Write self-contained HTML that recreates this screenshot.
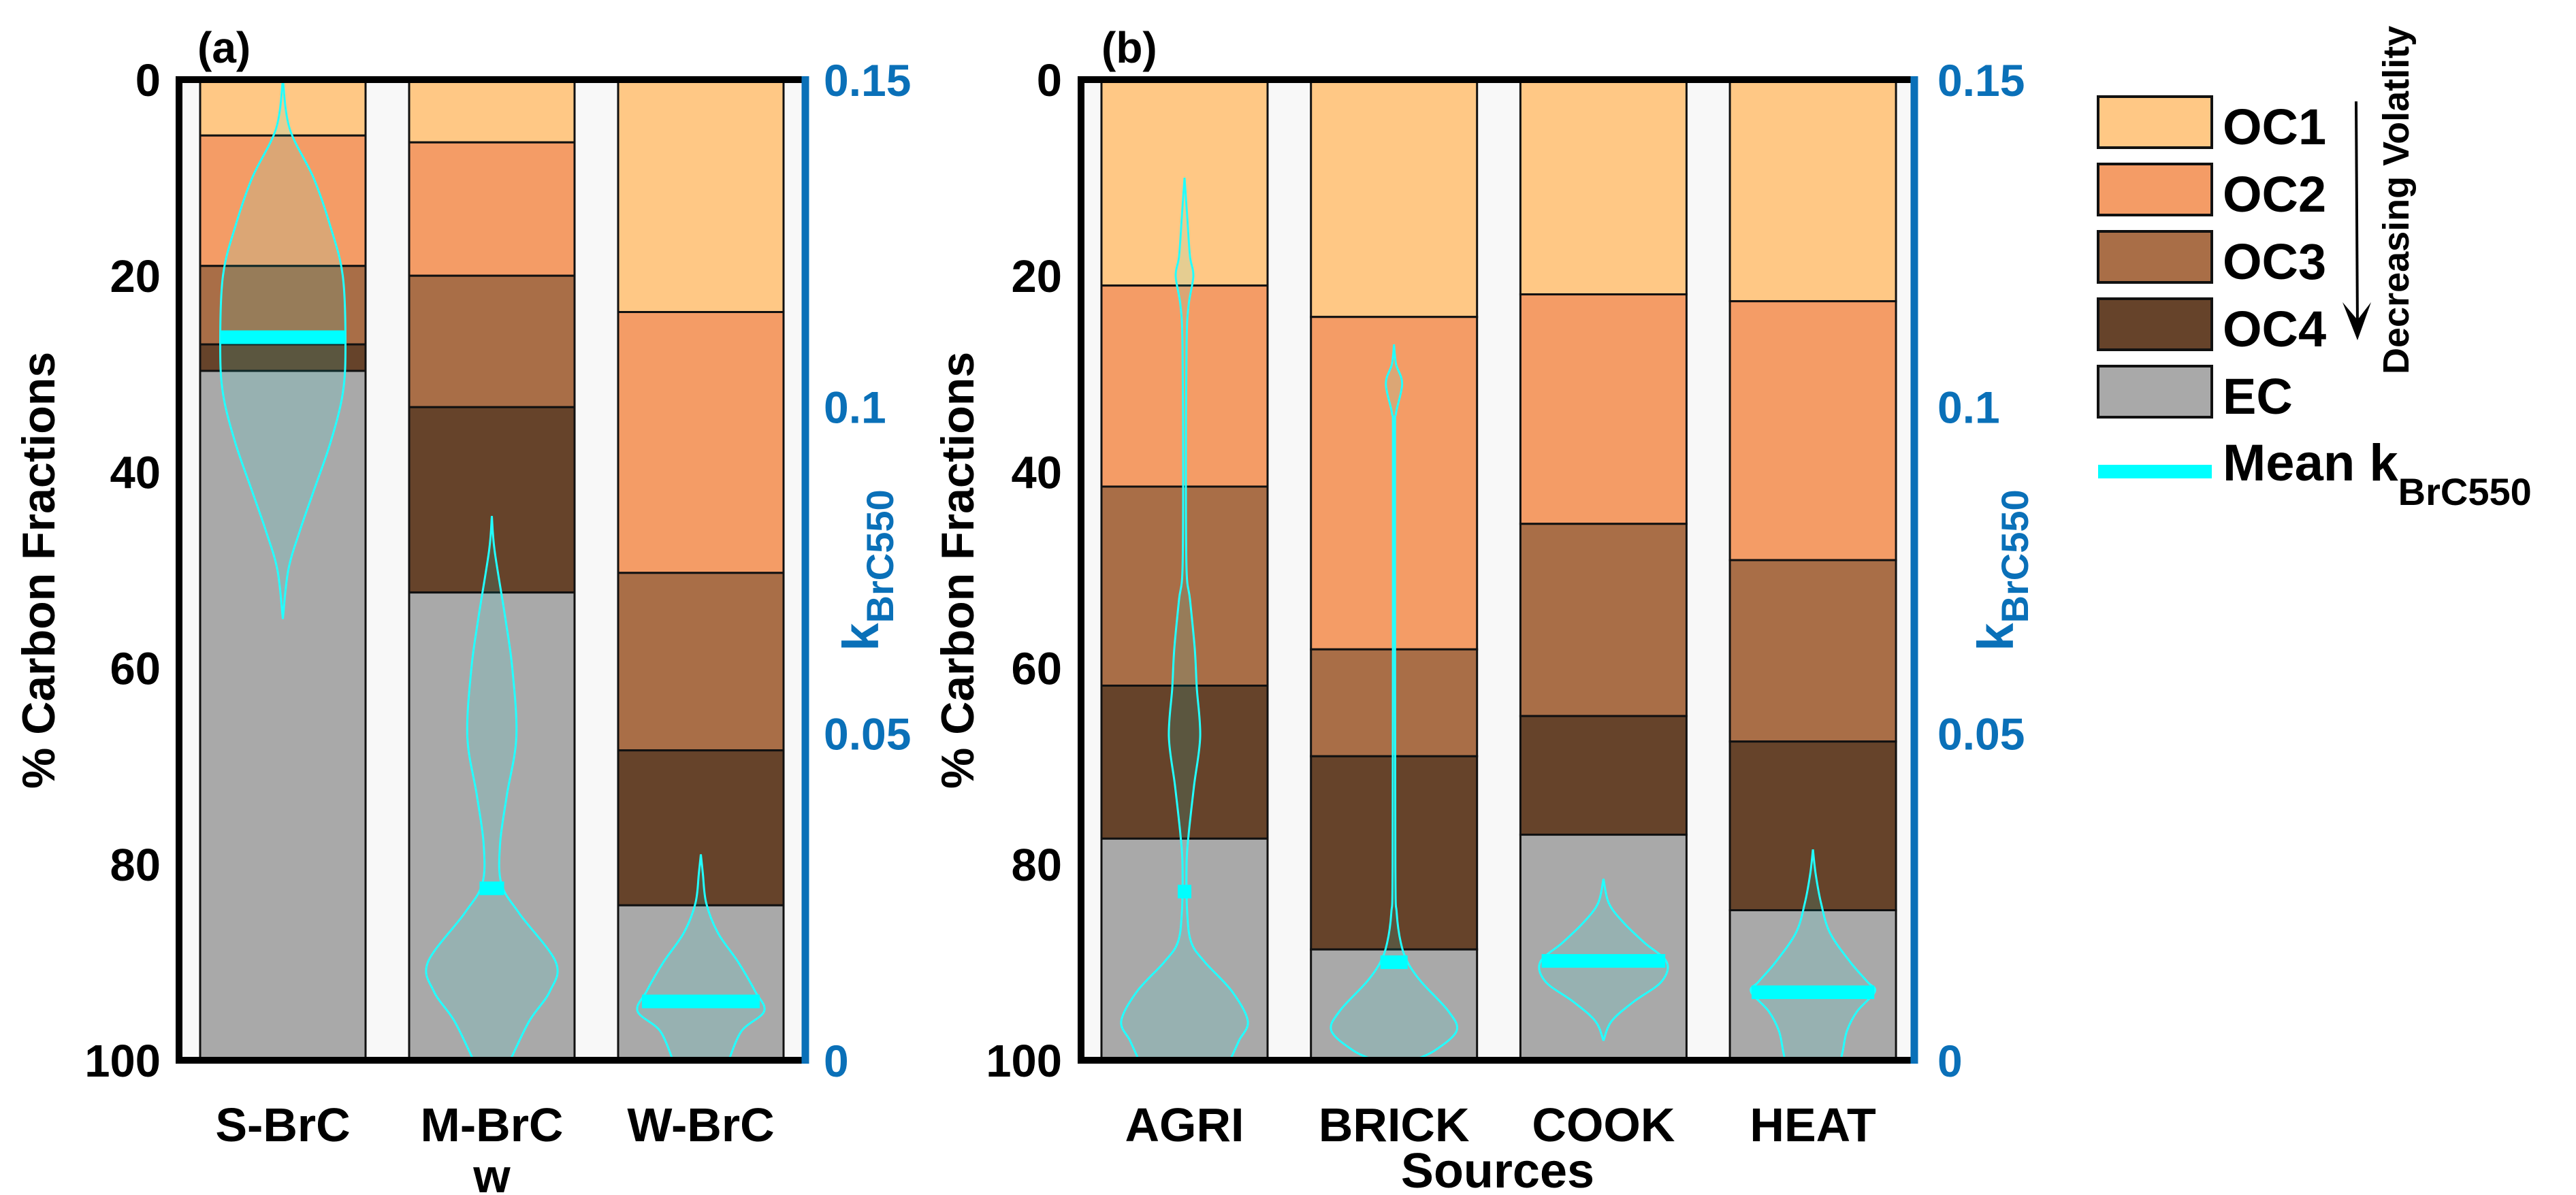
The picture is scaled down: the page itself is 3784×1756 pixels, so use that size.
<!DOCTYPE html>
<html><head><meta charset="utf-8"><style>
html,body{margin:0;padding:0;background:#fff}
svg{display:block}
text{font-family:"Liberation Sans",Arial,sans-serif;font-weight:bold}
.nar{font-family:"Liberation Sans Narrow","Liberation Sans",sans-serif;font-weight:bold}
</style></head><body>
<svg id="chart" xmlns="http://www.w3.org/2000/svg" width="3784" height="1756" viewBox="0 0 3784 1756">
<g id="pa"></g>
<g id="pb"></g>
<g id="legend">
  <rect x="3082" y="142" width="167" height="75" fill="#ffc885" stroke="#111" stroke-width="4"/>
  <text x="3265" y="212" font-size="74">OC1</text>
  <rect x="3082" y="241" width="167" height="75" fill="#f49c66" stroke="#111" stroke-width="4"/>
  <text x="3265" y="311" font-size="74">OC2</text>
  <rect x="3082" y="340" width="167" height="75" fill="#a96e47" stroke="#111" stroke-width="4"/>
  <text x="3265" y="410" font-size="74">OC3</text>
  <rect x="3082" y="439" width="167" height="75" fill="#66432a" stroke="#111" stroke-width="4"/>
  <text x="3265" y="509" font-size="74">OC4</text>
  <rect x="3082" y="538" width="167" height="75" fill="#a9a9a9" stroke="#111" stroke-width="4"/>
  <text x="3265" y="608" font-size="74">EC</text>
  <rect x="3082" y="683" width="167" height="20" fill="#00ffff"/>
  <text x="3265" y="706" font-size="76">Mean k<tspan font-size="56" dy="36">BrC550</tspan></text>
  <line x1="3461" y1="149" x2="3463" y2="480" stroke="#000" stroke-width="4"/>
  <path d="M3441 444 L3463 500 L3483 444 L3463 470 Z" fill="#000"/>
  <text class="nar" transform="translate(3538,550) rotate(-90)" font-size="54">Decreasing Volatlity</text>
</g>
</svg>
<script>
// ---- data ----
const fracNames = ["OC1","OC2","OC3","OC4","EC"];
const fracColors = ["#ffc885","#f49c66","#a96e47","#66432a","#a9a9a9"];
const catsA = ["S-BrC","M-BrC\nw","W-BrC"];
const oc1A = [5.7, 6.4, 23.7];
const oc2A = [13.3, 13.6, 26.6];
const oc3A = [8.0, 13.4, 18.1];
const oc4A = [2.7, 18.9, 15.8];
const catsB = ["AGRI","BRICK","COOK","HEAT"];
const oc1B = [21.0, 24.2, 21.9, 22.6];
const oc2B = [20.5, 33.9, 23.4, 26.4];
const oc3B = [20.3, 10.9, 19.6, 18.5];
const oc4B = [15.6, 19.7, 12.1, 17.2];
const leftTicks = [0,20,40,60,80,100];
const rightTicks = [0,0.05,0.1,0.15];
const rightTickLabels = ["0","0.05","0.1","0.15"];
const violinK_S = [0.15,0.1425,0.135,0.1275,0.12,0.1095,0.102,0.0945,0.087,0.081,0.075,0.0675];
const violinD_S = [0,0.10,0.45,0.70,0.88,0.92,0.88,0.70,0.45,0.25,0.08,0];
const violinK_M = [0.08325,0.078,0.0675,0.06,0.0495,0.0405,0.033,0.027,0.0225,0.015,0.0105,0.006,0];
const violinD_M = [0,0.04,0.20,0.30,0.36,0.22,0.12,0.14,0.40,0.94,0.85,0.55,0.27];
const violinK_W = [0.0315,0.0285,0.024,0.0195,0.015,0.0105,0.0075,0.0045,0];
const violinD_W = [0,0.03,0.08,0.25,0.55,0.80,0.93,0.60,0.41];
const violinK_AGRI = [0.135,0.129,0.123,0.12,0.1155,0.1095,0.09,0.075,0.0705,0.063,0.057,0.0495,0.042,0.0345,0.03,0.0225,0.018,0.015,0.0105,0.006,0.003,0];
const violinD_AGRI = [0,0.04,0.08,0.13,0.06,0.03,0.02,0.03,0.08,0.15,0.18,0.23,0.14,0.06,0.03,0.04,0.10,0.30,0.70,0.93,0.80,0.67];
const violinK_BRICK = [0.1095,0.1065,0.1035,0.099,0.096,0.075,0.03,0.0225,0.018,0.015,0.012,0.0075,0.0045,0.0015,0];
const violinD_BRICK = [0,0.03,0.12,0.03,0.015,0.015,0.02,0.04,0.10,0.20,0.40,0.80,0.92,0.60,0.29];
const violinK_COOK = [0.02775,0.024,0.021,0.018,0.015,0.012,0.009,0.006,0.003];
const violinD_COOK = [0,0.08,0.30,0.60,0.93,0.85,0.45,0.12,0];
const violinK_HEAT = [0.03225,0.0285,0.024,0.0195,0.015,0.012,0.0105,0.0075,0.0045,0.0015,0];
const violinD_HEAT = [0,0.04,0.12,0.25,0.55,0.80,0.91,0.65,0.50,0.44,0.41];
const meanA = [0.1106, 0.0263, 0.009];
const meanB = [0.0258, 0.015, 0.0152, 0.0104];

const NS="http://www.w3.org/2000/svg";
function mk(tag, attrs, parent){const e=document.createElementNS(NS,tag);for(const k in attrs)e.setAttribute(k,attrs[k]);parent.appendChild(e);return e;}

function splineSeg(pts){
  let d="";
  for(let i=0;i<pts.length-1;i++){
    const p0=pts[Math.max(0,i-1)],p1=pts[i],p2=pts[i+1],p3=pts[Math.min(pts.length-1,i+2)];
    const c1=[p1[0]+(p2[0]-p0[0])/6,p1[1]+(p2[1]-p0[1])/6];
    const c2=[p2[0]-(p3[0]-p1[0])/6,p2[1]-(p3[1]-p1[1])/6];
    d+=" C"+c1[0].toFixed(1)+" "+c1[1].toFixed(1)+" "+c2[0].toFixed(1)+" "+c2[1].toFixed(1)+" "+p2[0].toFixed(1)+" "+p2[1].toFixed(1);
  }
  return d;
}

function panel(g, cfg){
  const {x0,x1,y0,y1,cats,stacks,violins,means,lblX,firstBar,barW,step,kTitleX,rightLblX,leftLblX,title,titleX} = cfg;
  const yPct = p => y0 + (y1-y0)*p/100;
  const yK = k => y1 - (y1-y0)*k/0.15;
  let el = mk("rect",{x:x0,y:y0,width:x1-x0,height:y1-y0,fill:"#f8f8f8"},g);
  
  
  cats.forEach((c,i)=>{
    const bx = firstBar + i*step;
    const key = c.split("\n")[0].toLowerCase();
    let acc=0;
    const vals=[stacks[0][i],stacks[1][i],stacks[2][i],stacks[3][i]];
    const tot = vals.reduce((a,b)=>a+b,0);
    vals.push(100-tot);
    vals.forEach((v,j)=>{
      const r = mk("rect",{x:bx,y:yPct(acc),width:barW,height:yPct(acc+v)-yPct(acc),fill:fracColors[j],stroke:"#111","stroke-width":3},g);
      
      
      acc+=v;
    });
    const cx = bx + barW/2;
    const ks = violins[i][0], ds = violins[i][1];
    const right = ks.map((k,m)=>[cx+ds[m]*100,yK(k)]);
    const left = ks.map((k,m)=>[cx-ds[m]*100,yK(k)]).reverse();
    const d = "M"+right[0][0]+" "+right[0][1]+splineSeg(right)+" L"+left[0][0]+" "+left[0][1]+splineSeg(left)+" Z";
    const vp = mk("path",{d:d,fill:"rgba(0,255,255,0.1)",stroke:"#22ffff","stroke-width":3},g);
    
    
    const mv = means[i]; let w=10;
    for(let m=0;m<ks.length-1;m++){const a=ks[m],b=ks[m+1];if((mv<=a&&mv>=b)||(mv>=a&&mv<=b)){const t=(mv-a)/((b-a)||1);w=Math.max(10,(ds[m]+t*(ds[m+1]-ds[m]))*100);}}
    const ml = mk("rect",{x:cx-w,y:yK(mv)-10,width:2*w,height:20,fill:"#00ffff"},g);
    
    
    c.split("\n").forEach((ln,q)=>{
      const t = mk("text",{x:cx,y:1677+q*75,"font-size":70,"text-anchor":"middle"},g);
      t.textContent=ln;
      
      
    });
  });
  const fr = mk("path",{d:"M"+x1+" "+y0+" L"+x0+" "+y0+" L"+x0+" "+y1+" L"+x1+" "+y1,fill:"none",stroke:"#000","stroke-width":10},g);
  
  
  const ax = mk("line",{x1:x1,y1:y0-5,x2:x1,y2:y1+5,stroke:"#0a70b8","stroke-width":11},g);
  
  
  leftTicks.forEach(v=>{
    const t = mk("text",{x:leftLblX,y:yPct(v)+24,"font-size":67,"text-anchor":"end"},g);
    t.textContent=v;
    
    
  });
  rightTicks.forEach((v,i)=>{
    const t = mk("text",{x:rightLblX,y:yK(v)+24,"font-size":66,fill:"#0a70b8"},g);
    t.textContent=rightTickLabels[i];
    
    
  });
  const yt = mk("text",{transform:"translate("+lblX+",838) rotate(-90)","font-size":68,"text-anchor":"middle"},g);
  yt.textContent="% Carbon Fractions";
  
  
  const kt = mk("text",{transform:"translate("+kTitleX+",838) rotate(-90)","font-size":74,"text-anchor":"middle",fill:"#0a70b8","class":"nar"},g);
  kt.textContent="k";
  const sub = mk("tspan",{"font-size":56,dy:22},kt);
  sub.textContent="BrC550";
  
  
  const pt = mk("text",{x:titleX,y:92,"font-size":64},g);
  pt.textContent=title;
  
  
}

panel(document.getElementById("pa"),{x0:263,x1:1183,y0:117,y1:1558,cats:catsA,stacks:[oc1A,oc2A,oc3A,oc4A],
  violins:[[violinK_S,violinD_S],[violinK_M,violinD_M],[violinK_W,violinD_W]],means:meanA,
  lblX:80,firstBar:294,barW:243,step:307,kTitleX:1290,rightLblX:1210,leftLblX:236,title:"(a)",titleX:290});
panel(document.getElementById("pb"),{x0:1588,x1:2812,y0:117,y1:1558,cats:catsB,stacks:[oc1B,oc2B,oc3B,oc4B],
  violins:[[violinK_AGRI,violinD_AGRI],[violinK_BRICK,violinD_BRICK],[violinK_COOK,violinD_COOK],[violinK_HEAT,violinD_HEAT]],means:meanB,
  lblX:1430,firstBar:1618,barW:244,step:307.7,kTitleX:2957,rightLblX:2846,leftLblX:1560,title:"(b)",titleX:1618});
const src = mk("text",{x:2200,y:1745,"font-size":72,"text-anchor":"middle"},document.getElementById("pb"));
src.textContent="Sources";


</script>
</body></html>
